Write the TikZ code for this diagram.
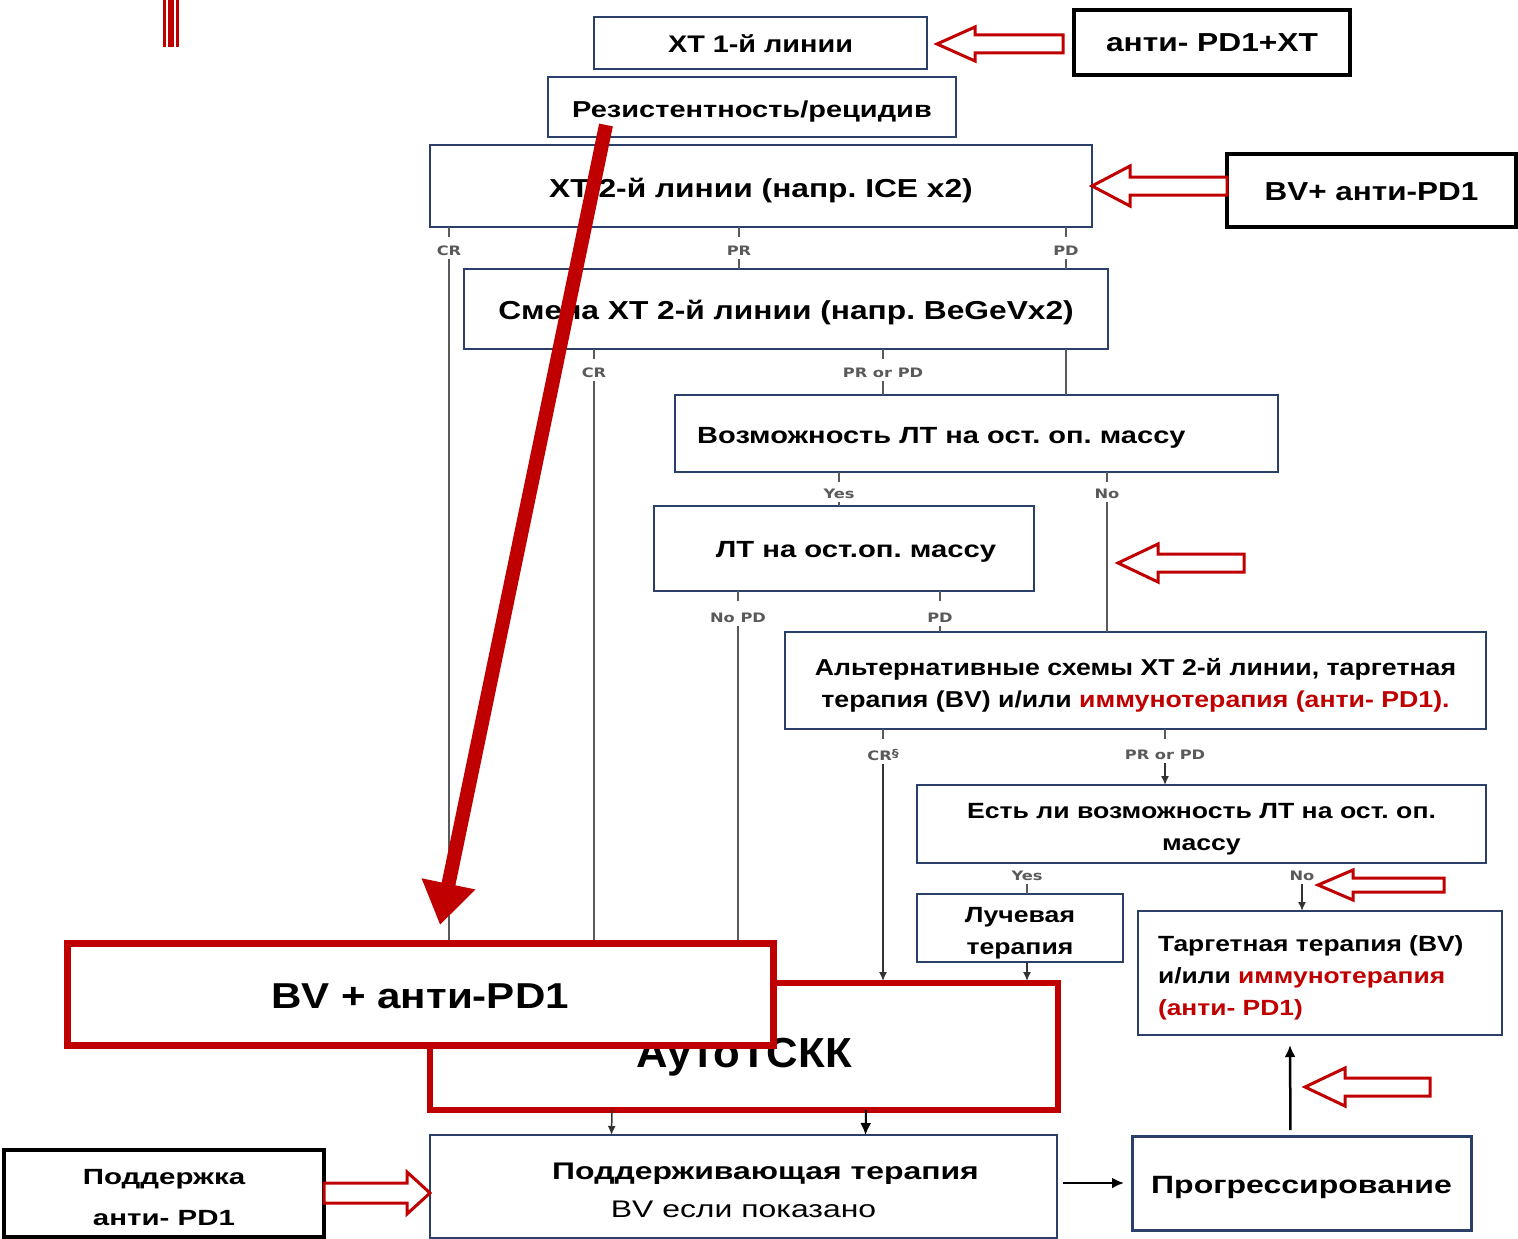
\documentclass[tikz,border=0pt]{standalone}
\usepackage{fontspec}
\setmainfont{Liberation Sans}
\newfontfamily\labfont{DejaVu Sans}
\usetikzlibrary{arrows.meta,calc}
\definecolor{navy}{HTML}{2B3F6B}
\definecolor{dred}{HTML}{C00000}
\definecolor{lgray}{HTML}{5A5A5A}
\newcommand{\fs}[2]{\fontsize{#1}{#2}\selectfont}
\newcommand{\st}[1]{\addfontfeatures{FakeStretch=#1}}
\newcommand{\holarrow}[5]{\draw[hol] let \p1=#1, \p2=#2 in
 (\p1) -- ({\x1+(#5)*1pt},{\y1+#4pt}) -- ({\x1+(#5)*1pt},{\y1+#3pt}) -- (\x2,{\y1+#3pt}) -- (\x2,{\y1-#3pt}) -- ({\x1+(#5)*1pt},{\y1-#3pt}) -- ({\x1+(#5)*1pt},{\y1-#4pt}) -- cycle;}
\frenchspacing
\begin{document}
\begin{tikzpicture}[x=1pt,y=-1pt,
 sz/.style 2 args={minimum width=#1pt, minimum height=#2pt},
 th/.style={text height=#1pt, text depth=0pt},
 bx/.style={draw=navy, line width=2pt, fill=white, inner sep=0pt, outer sep=0pt, align=center},
 blk/.style={draw=black, line width=4.5pt, fill=white, inner sep=0pt, outer sep=0pt, align=center},
 rbx/.style={draw=dred, line width=7pt, fill=white, inner sep=0pt, outer sep=0pt, align=center},
 txt/.style={inner sep=0pt, align=center},
 lab/.style={font=\labfont\bfseries\fs{13}{13}\st{1.25}, text=lgray, inner sep=3pt},
 ln/.style={draw=lgray, line width=1.5pt},
 arr/.style={draw=black!80, line width=1.5pt, -{Latex[length=9pt,width=8pt]}},
 barr/.style={draw=black, line width=2.5pt, -{Latex[length=12pt,width=11pt]}},
 hol/.style={draw=dred, line width=3pt, fill=white, line join=miter},
]
\useasboundingbox (0,0) rectangle (1518,1239);
\fill[white] (0,0) rectangle (1518,1239);
% red mark
\fill[dred] (163,0) rectangle (166,47);
\fill[dred] (168,0) rectangle (174,47);
\fill[dred] (176,0) rectangle (179,47);

% labels
\node[lab] (l1) at (449,251) {CR};
\node[lab] (l2) at (739,251) {PR};
\node[lab] (l3) at (1066,251) {PD};
\node[lab] (l4) at (594,373) {CR};
\node[lab] (l5) at (883,373) {PR or PD};
\node[lab] (l6) at (839,494) {Yes};
\node[lab] (l7) at (1107,494) {No};
\node[lab] (l8) at (738,618) {No PD};
\node[lab] (l9) at (940,618) {PD};
\node[lab] (l10) at (883,755) {CR\raisebox{3pt}{\fs{11}{11}§}};
\node[lab] (l11) at (1165,755) {PR or PD};
\node[lab] (l12) at (1027,876) {Yes};
\node[lab] (l13) at (1302,876) {No};

% boxes
\node[bx, sz={333}{52}, th=19.2, font=\bfseries\fs{24}{30}\st{1.2}] (xt1) at (760.5,43) {ХТ 1-й линии};
\node[blk, sz={276}{65}, th=18.6, font=\bfseries\fs{26}{32}\st{1.22}] (antixt) at (1212,42.5) {анти- PD1+ХТ};
\node[bx, sz={408}{60}, th=20.5, font=\bfseries\fs{23}{30}\st{1.26}] (res) at (752,107) {Резистентность/рецидив};
\node[bx, sz={662}{82}, th=22.6, font=\bfseries\fs{26}{32}\st{1.22}] (xt2) at (761,186) {ХТ 2-й линии (напр. ICE x2)};
\node[blk, sz={289}{73}, th=19.6, font=\bfseries\fs{26}{32}\st{1.21}] (bvtop) at (1371.5,190.5) {BV+ анти-PD1};
\node[bx, sz={644}{80}, th=20.6, font=\bfseries\fs{26}{32}\st{1.22}] (smena) at (786,309) {Смена ХТ 2-й линии (напр. BeGeVx2)};
\node[bx, sz={603}{77}] (voz) at (976.5,433.5) {};
\node[txt, anchor=base west, font=\bfseries\fs{23.4}{30}\st{1.24}] (voztxt) at (697,443) {Возможность ЛТ на ост. оп. массу};
\node[bx, sz={380}{85}] (lt) at (844,548.5) {};
\node[txt, anchor=base, font=\bfseries\fs{23.4}{30}\st{1.25}] (lttxt) at (856,557) {ЛТ на ост.оп. массу};
\node[bx, sz={701}{97}] (alt) at (1135.5,680.5) {};
\node[txt, font=\bfseries\fs{23}{32}\st{1.16}] (alttxt) at ($(alt.center)+(0,5)$) {Альтернативные схемы ХТ 2-й линии, таргетная\\терапия (BV) и/или \textcolor{dred}{иммунотерапия (анти- PD1).}};
\node[bx, sz={569}{78}] (est) at (1201.5,824) {};
\node[txt, font=\bfseries\fs{22}{32}\st{1.21}] (esttxt) at ($(est.center)+(0,5)$) {Есть ли возможность ЛТ на ост. оп.\\массу};
\node[bx, sz={206}{68}] (luch) at (1020,928) {};
\node[txt, font=\bfseries\fs{22}{32}\st{1.21}] (luchtxt) at ($(luch.center)+(0,5)$) {Лучевая\\терапия};
\node[bx, sz={364}{124}] (targ) at (1320,973) {};
\node[txt, text width=324pt, align=left, font=\bfseries\fs{22}{32}\st{1.2}] (targtxt) at ($(targ.center)+(0,5)$) {Таргетная терапия (BV)\\и/или \textcolor{dred}{иммунотерапия}\\\textcolor{dred}{(анти- PD1)}};
\node[bx, sz={627}{103}] (podd) at (743.5,1186.5) {};
\node[txt, font=\bfseries\fs{24}{38}\st{1.33}] (poddtxt) at ($(podd.center)+(0,4)$) {\hspace*{44pt}Поддерживающая терапия\\{\mdseries BV если показано}};
\node[bx, line width=3pt, sz={339}{94}, th=21.9, font=\bfseries\fs{25}{32}\st{1.28}] (prog) at (1301.5,1183) {Прогрессирование};
\node[blk, sz={320}{87}] (podk) at (164,1193.5) {};
\node[txt, font=\bfseries\fs{22}{41}\st{1.34}] (podktxt) at ($(podk.center)+(0,4)$) {Поддержка\\анти- PD1};

% connectors
\draw[ln] (l1 |- xt2.south) -- ++(0,10);
\draw[ln] (l2 |- xt2.south) -- ++(0,10);
\draw[ln] (l3 |- xt2.south) -- ++(0,10);
\draw[ln] (l2.south) -- (l2 |- smena.north);
\draw[ln] (l3.south) -- (l3 |- smena.north);
\draw[ln] (l1.south) -- (449,943);
\draw[ln] (l4 |- smena.south) -- ++(0,10);
\draw[ln] (l5 |- smena.south) -- ++(0,10);
\draw[ln] (l3 |- smena.south) -- (l3 |- voz.north);
\draw[ln] (l4.south) -- (594,943);
\draw[ln] (l5.south) -- (l5 |- voz.north);
\draw[ln] (l6 |- voz.south) -- ++(0,10);
\draw[ln] (l7 |- voz.south) -- ++(0,10);
\draw[ln] (l6.south) -- (l6 |- lt.north);
\draw[ln] (l7.south) -- (l7 |- alt.north);
\draw[ln] (l8 |- lt.south) -- ++(0,10);
\draw[ln] (l9 |- lt.south) -- ++(0,10);
\draw[ln] (l8.south) -- (738,943);
\draw[ln] (l9.south) -- (l9 |- alt.north);
\draw[ln] (l10 |- alt.south) -- ++(0,10);
\draw[ln] (l11 |- alt.south) -- ++(0,10);
\draw[arr] (l10.south) -- (883,981);
\draw[arr] (l11.south) -- (l11 |- est.north);
\draw[ln] (l12.south) -- (l12 |- luch.north);
\draw[arr] (l13.south) -- (l13 |- targ.north);
\draw[arr] (l12 |- luch.south) -- (1027,981);

% red boxes
\node[rbx, line width=6pt, sz={628}{127}, th=41, font=\bfseries\fs{42}{48}\st{1.04}] (auto) at (744,1046.5) {АутоТСКК};
\node[rbx, sz={706}{102}, th=29.8, font=\bfseries\fs{36}{42}\st{1.17}] (bvbig) at (420,994) {BV + анти-PD1};

\draw[arr] ([xshift=-132pt]auto.south) -- ([xshift=-132pt]podd.north);
\draw[barr, line width=2pt] ([xshift=122pt]auto.south) -- ([xshift=122pt]podd.north);
\draw[barr] ($(podd.east |- prog.west)+(6,0)$) -- ($(prog.west)+(-8,0)$);
\draw[barr, shorten <=6pt] ([xshift=-11pt]prog.north) -- ([xshift=-30pt,yshift=-10pt]targ.south);

% hollow red arrows
\holarrow{($(xt1.east)+(10,1)$)}{($(antixt.west)+(-11,1)$)}{9}{17}{38}
\holarrow{($(xt2.east)+(0,0)$)}{(bvtop.west |- xt2.east)}{9}{20}{38}
\holarrow{(1118,563)}{(1244,563)}{9}{19}{40}
\holarrow{(1318,885)}{(1444,885)}{7}{15}{35}
\holarrow{(1305,1087)}{(1430,1087)}{9}{19}{40}
\holarrow{(podd.west |- 0,1193)}{(podk.east |- 0,1193)}{10}{21}{-23}

% big red arrow
\coordinate (rs) at (606,125);
\coordinate (re) at (440,925);
\draw[draw=dred, line width=14pt, -{Triangle[length=42pt,width=52pt]}] (rs) -- (re);
\end{tikzpicture}
\end{document}
